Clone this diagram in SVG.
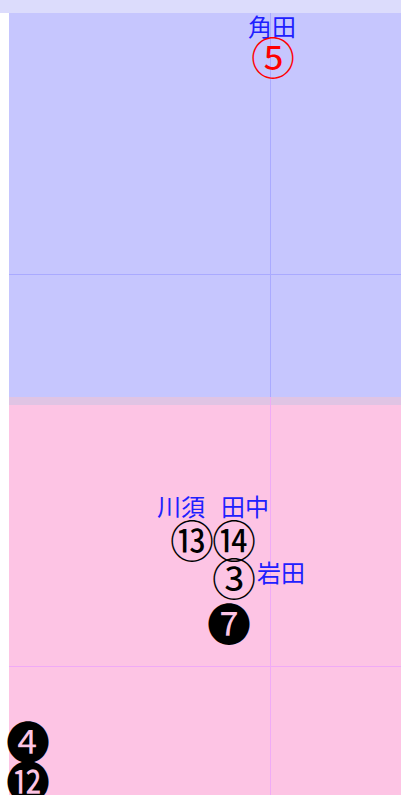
<svg xmlns="http://www.w3.org/2000/svg" width="401" height="795" viewBox="0 0 401 795">
<style>
.lbl{font-family:"Noto Sans CJK JP",sans-serif;font-size:24px;fill:#2020ff;text-anchor:middle}
.num{font-family:"DejaVu Serif","Noto Sans CJK JP",serif;font-size:44px;text-anchor:middle;dominant-baseline:central}
</style>
<rect x="0" y="0" width="401" height="795" fill="#ffffff"/>
<g id="zones">
<rect x="0" y="0" width="401" height="13" fill="#dcdcfc"/>
<rect x="9" y="13" width="392" height="392" fill="#c6c6fe"/>
<rect x="9" y="397" width="392" height="398" fill="#fdc4e4"/>
<rect x="9" y="397" width="392" height="8" fill="#e0c4e4"/>
</g>
<g id="connectors" stroke-width="1">
<line x1="270.5" y1="13" x2="270.5" y2="397" stroke="#aaaaff"/>
<line x1="9" y1="274.5" x2="401" y2="274.5" stroke="#aaaaff"/>
<line x1="270.5" y1="397" x2="270.5" y2="795" stroke="#f0aaf6"/>
<line x1="9" y1="666.5" x2="401" y2="666.5" stroke="#f0aaf6"/>
</g>
<g id="n5"><text class="lbl" x="272" y="36">角田</text><text class="num" x="273" y="59" fill="#ff0000">⑤</text></g>
<g id="n13"><text class="lbl" x="181" y="516">川須</text><text class="num" x="192" y="542" fill="#000">⑬</text></g>
<g id="n14"><text class="lbl" x="245" y="516">田中</text><text class="num" x="234" y="542" fill="#000">⑭</text></g>
<g id="n3"><text class="lbl" x="281" y="582">岩田</text><text class="num" x="234" y="580" fill="#000">③</text></g>
<g id="n7"><text class="num" x="229" y="625" fill="#000">❼</text></g>
<g id="n4"><text class="num" x="28" y="743" fill="#000">❹</text></g>
<g id="n12"><text class="num" x="28" y="783" fill="#000">⓬</text></g>
</svg>
